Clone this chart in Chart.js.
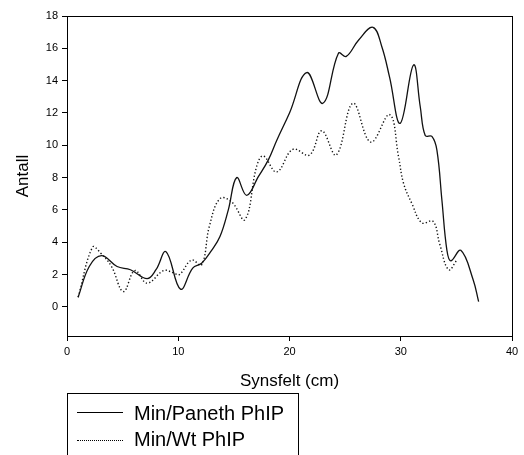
<!DOCTYPE html>
<html>
<head>
<meta charset="utf-8">
<script src="https://cdn.jsdelivr.net/npm/chart.js@4/dist/chart.umd.min.js"></script>
<style>
  body { margin: 0; background: #fff; }
  #wrap { position: relative; width: 524px; height: 455px; overflow: hidden; }
  #legend { position: absolute; left: 67px; top: 393px; width: 230px; height: 90px;
            border: 1px solid #000; font-family: Arial, "Liberation Sans", sans-serif;
            font-size: 20px; color: #000; }
  .row { position: absolute; left: 0; height: 24px; width: 230px; }
  .sample { position: absolute; left: 9px; width: 46px; top: 11px; }
  .label { position: absolute; left: 66px; top: 0; line-height: 24px; white-space: nowrap; }
</style>
</head>
<body>
<div id="wrap">
  <canvas id="graphCanvas" width="524" height="455"></canvas>
  <div id="legend">
    <div class="row" style="top:7px"><div class="sample" style="border-top:1.3px solid #000"></div><span class="label" id="lab0"></span></div>
    <div class="row" style="top:33px"><div class="sample" style="border-top:1.5px dotted #000;top:13px"></div><span class="label" id="lab1"></span></div>
  </div>
</div>
<script>
// series names
var seriesNames = ['Min/Paneth PhIP', 'Min/Wt PhIP'];

// Min/Paneth PhIP (solid)
var panethX = [1, 2, 3.1, 4.5, 5.7, 7.2, 8, 8.9, 10.2, 11.3, 12.1, 13, 13.75, 14.5, 15.25, 16.15, 17.2, 18.1, 18.85, 20, 21.55, 23, 24.4, 25.1, 26.2, 27.5, 28.3, 29, 29.95, 31.15, 31.75, 32.2, 32.8, 33.25, 33.7, 34.15, 34.5, 35.4, 36.5, 37];
var panethY = [0.6, 2.5, 3.17, 2.5, 2.3, 1.75, 2.3, 3.42, 1.1, 2.4, 2.7, 3.5, 4.35, 6.0, 8.0, 6.9, 8.06, 9.1, 10.3, 12.0, 14.5, 12.6, 15.7, 15.5, 16.5, 17.3, 16.1, 14.2, 11.36, 14.97, 12.4, 10.6, 10.55, 9.7, 6.6, 3.5, 2.85, 3.5, 1.7, 0.33];

// Min/Wt PhIP (dotted)
var wtX = [1, 2.3, 3, 4, 5.07, 6.1, 7.2, 8.7, 9.6, 10.1, 11.2, 12.1, 12.8, 13.75, 14.8, 16, 17.05, 17.65, 18.85, 20.3, 21.8, 22.9, 24.2, 25.7, 27.3, 29, 29.8, 30.25, 31, 31.9, 32.9, 33.5, 34.3, 35.05];
var wtY = [0.6, 3.7, 3.35, 2.5, 0.95, 2.25, 1.47, 2.25, 2.1, 2.0, 2.9, 2.6, 5.0, 6.7, 6.5, 5.4, 8.7, 9.34, 8.35, 9.75, 9.4, 10.9, 9.4, 12.6, 10.2, 11.9, 9.3, 7.65, 6.4, 5.2, 5.3, 3.9, 2.3, 2.9];

var xTicks = [0, 10, 20, 30, 40];
var yTicks = [0, 2, 4, 6, 8, 10, 12, 14, 16, 18];

function toPoints(xs, ys) {
    var pts = [];
    for (var i in xs) {
        pts.push({ x: xs[i], y: ys[i] });
    }
    return pts;
}

document.getElementById('lab0').textContent = seriesNames[0];
document.getElementById('lab1').textContent = seriesNames[1];

var fontFam = 'Arial, "Liberation Sans", sans-serif';

// draws the top and right sides of the frame
var framePlugin = {
    id: 'frame',
    afterDraw: function (chart) {
        var a = chart.chartArea;
        var ctx = chart.ctx;
        ctx.save();
        ctx.strokeStyle = '#000';
        ctx.lineWidth = 1;
        ctx.strokeRect(Math.round(a.left) + 0.5, Math.round(a.top) + 0.5,
            Math.round(a.right - a.left), Math.round(a.bottom - a.top));
        ctx.restore();
    }
};

var chartdata = {
    datasets: [
        {
            label: seriesNames[0],
            data: toPoints(panethX, panethY),
            borderColor: '#111',
            borderWidth: 1.3,
            pointRadius: 0,
            tension: 0.4,
            fill: false
        },
        {
            label: seriesNames[1],
            data: toPoints(wtX, wtY),
            borderColor: '#111',
            borderWidth: 1.4,
            borderDash: [1.3, 2.2],
            pointRadius: 0,
            tension: 0.4,
            fill: false
        }
    ]
};

var graphTarget = document.getElementById('graphCanvas');

var lineGraph = new Chart(graphTarget, {
    type: 'line',
    data: chartdata,
    plugins: [framePlugin],
    options: {
        responsive: false,
        animation: false,
        layout: { padding: { top: 16, right: 12, left: 0, bottom: 0 } },
        plugins: {
            legend: { display: false },
            tooltip: { enabled: false }
        },
        scales: {
            x: {
                type: 'linear',
                min: 0,
                max: 40,
                afterBuildTicks: function (s) { s.ticks = xTicks.map(function (v) { return { value: v }; }); },
                afterFit: function (s) { s.height = 119; },
                grid: { display: true, drawOnChartArea: false, drawTicks: true, tickLength: 5, color: '#000' },
                border: { display: true, color: '#000', width: 1 },
                ticks: { color: '#000', padding: 4, maxRotation: 0, font: { family: fontFam, size: 11 } },
                title: { display: true, text: 'Synsfelt (cm)', color: '#000',
                         font: { family: fontFam, size: 17 }, padding: { top: 4, bottom: 63 } }
            },
            y: {
                type: 'linear',
                min: -1.8,
                max: 18,
                afterBuildTicks: function (s) { s.ticks = yTicks.map(function (v) { return { value: v }; }); },
                afterFit: function (s) { s.width = 67; },
                grid: { display: true, drawOnChartArea: false, drawTicks: true, tickLength: 5, color: '#000' },
                border: { display: true, color: '#000', width: 1 },
                ticks: { color: '#000', padding: 4, font: { family: fontFam, size: 11 } },
                title: { display: true, text: 'Antall', color: '#000',
                         font: { family: fontFam, size: 17 }, padding: { top: 13, bottom: 0 } }
            }
        }
    }
});
</script>
</body>
</html>
